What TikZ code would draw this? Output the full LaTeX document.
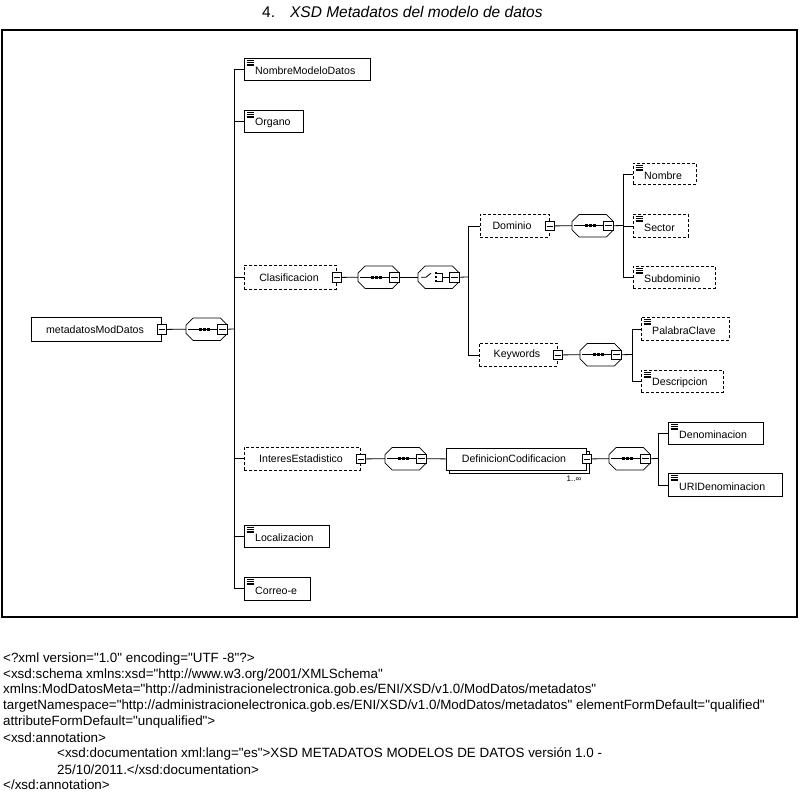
\documentclass[tikz,border=0pt]{standalone}
\usepackage{fontspec}
\setmainfont{Liberation Sans}[Ligatures=TeXOff]
\usetikzlibrary{calc}
\newcommand\elbox[6]{\node[ebox,#6,minimum width=#4pt,minimum height=#5pt] (#1) at (#2,#3) {};}
\newcommand\leafel[7]{%
  \elbox{#1}{#2}{#3}{#4}{#5}{#6}
  \foreach \k in {0,1,2,3} \draw[iconline] ([xshift=2.5pt,yshift={-(2.2+1.8*\k)*1pt}]#1.north west) -- ++(7,0);
  \node[lbl,anchor=west] (#1-t) at ([xshift=11pt,yshift=-1.8pt]#1.west) {#7};}
\newcommand\parentel[8]{%
  \elbox{#1}{#2}{#3}{#4}{#5}{#6}
  \node[lbl] (#1-t) at ([xshift=#8pt]#1.west) {#7};
  \node[minus] (#1-m) at (#1.east) {};}
\newcommand\octa[1]{%
  \draw[compline] ([xshift=7pt]#1.north west) -- ([xshift=-7pt]#1.north east) -- ([yshift=-7pt]#1.north east) -- ([yshift=7pt]#1.south east) -- ([xshift=-7pt]#1.south east) -- ([xshift=7pt]#1.south west) -- ([yshift=7pt]#1.south west) -- ([yshift=-7pt]#1.north west) -- cycle;}
\newcommand\seqcomp[3]{%
  \node[comp] (#1) at (#2,#3) {};
  \octa{#1}
  \node[minus] (#1-m) at ([xshift=-5pt]#1.east) {};
  \draw[conn] ([xshift=2pt]#1.west) -- (#1-m.west);
  \foreach \d in {-6,-2,2} \fill ([xshift=\d pt]#1.center) +(-1.3pt,-1.3pt) rectangle +(1.3pt,1.3pt);}
\newcommand\chocomp[3]{%
  \node[comp] (#1) at (#2,#3) {};
  \octa{#1}
  \node[minus] (#1-m) at ([xshift=-5pt]#1.east) {};
  \draw[conn] ([xshift=3pt]#1.west) -- ++(5,0) -- ++(5,-4);
  \foreach \d in {-4,0,4} \fill ([xshift=18pt,yshift=\d pt]#1.west) +(-1.2pt,-1.2pt) rectangle +(1.2pt,1.2pt);
  \draw[conn] ([xshift=19pt,yshift=4pt]#1.west) -- ++(5,0) -- ++(0,8) -- ++(-5,0);
  \draw[conn] ([xshift=24pt]#1.west) -- (#1-m.west);}
\begin{document}
\begin{tikzpicture}[x=1pt,y=-1pt,
  ebox/.style={draw, fill=white, line width=0.8pt, inner sep=0pt, anchor=north west},
  opt/.style={dash pattern=on 3pt off 2pt},
  req/.style={},
  lbl/.style={font=\fontsize{10.6}{12}\selectfont, inner sep=0pt},
  minus/.style={draw, fill=white, line width=0.6pt, minimum size=9.5pt, inner sep=0pt,
    path picture={\draw[line width=0.6pt] ([xshift=1.5pt]path picture bounding box.west) -- ([xshift=-1.5pt]path picture bounding box.east);}},
  comp/.style={inner sep=0pt, minimum width=41pt, minimum height=22pt, anchor=north west},
  compline/.style={line width=0.7pt, fill=white},
  iconline/.style={line width=0.45pt},
  conn/.style={line width=0.8pt},
  trunk/.style={line width=0.9pt},
  code/.style={font=\fontsize{13.4}{15}\selectfont, inner sep=0pt, anchor=west}]
\useasboundingbox (0,0) rectangle (800,793);
\fill[white] (0,0) rectangle (800,793);
% title
\node[font=\fontsize{15.5}{17}\selectfont, inner sep=0pt, anchor=west] (title) at (262,12) {4.\hspace{15pt}\textit{XSD Metadatos del modelo de datos}};
% frame
\draw[line width=1.1pt] (2,30) rectangle (797,617);
% root
\parentel{root}{31}{317}{130}{24}{req}{metadatosModDatos}{64}
\seqcomp{seq0}{186}{318}
\draw[conn] (root-m.east) -- (seq0.west);
\coordinate (t0) at (234,329);
\draw[conn] (seq0-m.east) -- (t0);
% first level
\leafel{nmd}{244}{58}{126}{22}{req}{NombreModeloDatos}
\leafel{org}{244}{110}{59}{22}{req}{Organo}
\parentel{clas}{244}{265}{92}{24}{opt}{Clasificacion}{45}
\parentel{int}{244}{447}{116}{23}{opt}{InteresEstadistico}{57}
\leafel{loc}{244}{525}{85}{22}{req}{Localizacion}
\leafel{cor}{244}{577}{66}{23}{req}{Correo-e}
\foreach \c in {nmd,org,clas,int,loc,cor} \draw[trunk] (t0) |- (\c.west);
% Clasificacion branch
\seqcomp{seq1}{358}{266}
\chocomp{cho1}{418}{266}
\draw[conn] (clas-m.east) -- (seq1.west);
\draw[conn] (seq1-m.east) -- (cho1.west);
\coordinate (t1) at (468,277);
\draw[conn] (cho1-m.east) -- (t1);
\parentel{dom}{480}{214}{69}{23}{opt}{Dominio}{32}
\parentel{kw}{479}{343}{78}{23}{opt}{Keywords}{38}
\draw[conn] (t1) |- (dom.west);
\draw[conn] (t1) |- (kw.west);
% Dominio
\seqcomp{seq2}{572}{214.5}
\draw[conn] (dom-m.east) -- (seq2.west);
\coordinate (t2) at (623,225.5);
\draw[conn] (seq2-m.east) -- (t2);
\leafel{nombre}{633}{163}{63}{21}{opt}{Nombre}
\leafel{sector}{633}{214}{55}{23}{opt}{Sector}
\leafel{subd}{633}{266}{82}{22}{opt}{Subdominio}
\foreach \c in {nombre,sector,subd} \draw[conn] (t2) |- (\c.west);
% Keywords
\seqcomp{seq3}{580}{343.5}
\draw[conn] (kw-m.east) -- (seq3.west);
\coordinate (t3) at (632,354.5);
\draw[conn] (seq3-m.east) -- (t3);
\leafel{palabra}{641}{317}{88}{23}{opt}{PalabraClave}
\leafel{desc}{641}{370}{82}{22}{opt}{Descripcion}
\foreach \c in {palabra,desc} \draw[conn] (t3) |- (\c.west);
% InteresEstadistico
\seqcomp{seq4}{385}{447.5}
\draw[conn] (int-m.east) -- (seq4.west);
\elbox{defb}{449}{450.5}{140}{22}{req}
\parentel{def}{446}{447.5}{140}{22}{req}{DefinicionCodificacion}{68}
\draw[conn] (seq4-m.east) -- (def.west);
\node[font=\fontsize{8}{9}\selectfont, inner sep=0pt] (defmult) at (574,479) {1..∞};
\seqcomp{seq5}{609}{447.5}
\draw[conn] (def-m.east) -- (seq5.west);
\coordinate (t4) at (658,458.5);
\draw[conn] (seq5-m.east) -- (t4);
\leafel{denom}{668}{422}{95}{22}{req}{Denominacion}
\leafel{uri}{668}{473}{114}{23}{req}{URIDenominacion}
\foreach \c in {denom,uri} \draw[conn] (t4) |- (\c.west);
% code text
\node[code] (l1) at (3,659) {<?xml version="1.0" encoding="UTF -8"?>};
\node[code] (l2) at (3,674.75) {<xsd:schema xmlns:xsd="http://www.w3.org/2001/XMLSchema"};
\node[code] (l3) at (3,690.5) {xmlns:ModDatosMeta="http://administracionelectronica.gob.es/ENI/XSD/v1.0/ModDatos/metadatos"};
\node[code] (l4) at (3,706.25) {targetNamespace="http://administracionelectronica.gob.es/ENI/XSD/v1.0/ModDatos/metadatos" elementFormDefault="qualified"};
\node[code] (l5) at (3,722) {attributeFormDefault="unqualified">};
\node[code] (l6) at (3,737.75) {<xsd:annotation>};
\node[code] (l7) at (57,753.5) {<xsd:documentation xml:lang="es">XSD METADATOS MODELOS DE DATOS versión 1.0 -};
\node[code] (l8) at (57,769.25) {25/10/2011.</xsd:documentation>};
\node[code] (l9) at (3,785) {</xsd:annotation>};
\end{tikzpicture}
\end{document}
